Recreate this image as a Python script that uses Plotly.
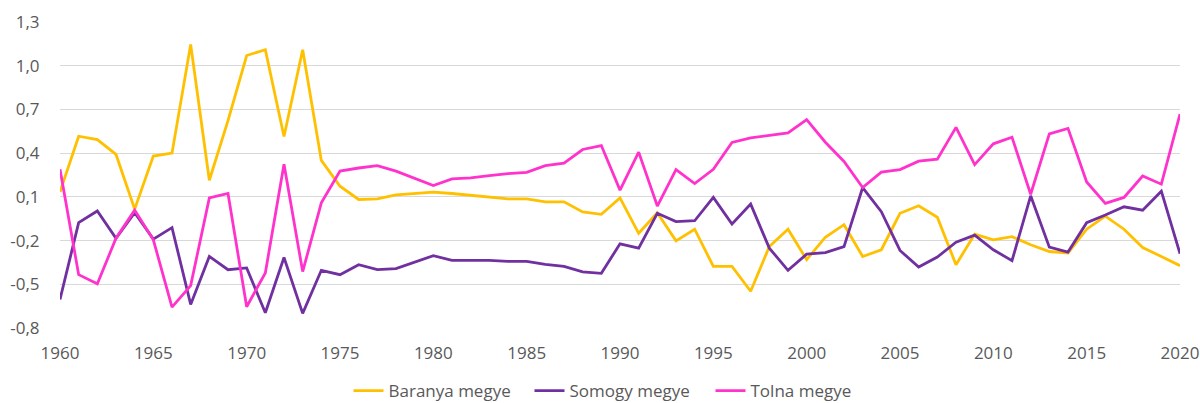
import plotly.graph_objects as go

years = list(range(1960, 2021))

baranya = [0.134, 0.516, 0.493, 0.391, 0.016, 0.38, 0.40, 1.146, 0.214, 0.623,
           1.07, 1.11, 0.514, 1.11, 0.35, 0.173, 0.082, 0.086, 0.114, 0.123,
           0.132, 0.123, 0.11, 0.10, 0.086, 0.086, 0.066, 0.066, -0.004, -0.02,
           0.093, -0.15, -0.009, -0.202, -0.122, -0.377, -0.377, -0.548, -0.241, -0.122,
           -0.331, -0.177, -0.091, -0.309, -0.263, -0.013, 0.039, -0.04, -0.366, -0.156,
           -0.195, -0.173, -0.229, -0.275, -0.286, -0.122, -0.032, -0.122, -0.248, -0.309,
           -0.372]

somogy = [-0.604, -0.077, 0.003, -0.184, -0.009, -0.19, -0.111, -0.638, -0.309, -0.40,
          -0.388, -0.695, -0.316, -0.70, -0.404, -0.434, -0.366, -0.40, -0.393, -0.347,
          -0.304, -0.336, -0.336, -0.336, -0.343, -0.343, -0.363, -0.377, -0.415, -0.425,
          -0.222, -0.252, -0.013, -0.07, -0.064, 0.096, -0.086, 0.05, -0.252, -0.404,
          -0.293, -0.282, -0.241, 0.164, -0.002, -0.268, -0.381, -0.313, -0.211, -0.163,
          -0.263, -0.338, 0.107, -0.245, -0.279, -0.077, -0.025, 0.032, 0.009, 0.139,
          -0.29]

tolna = [0.289, -0.434, -0.497, -0.184, 0.009, -0.195, -0.657, -0.509, 0.093, 0.123,
         -0.654, -0.422, 0.323, -0.413, 0.059, 0.277, 0.298, 0.314, 0.277, 0.225,
         0.178, 0.223, 0.23, 0.246, 0.26, 0.268, 0.314, 0.332, 0.425, 0.452,
         0.146, 0.407, 0.037, 0.287, 0.191, 0.289, 0.473, 0.505, 0.521, 0.539,
         0.63, 0.475, 0.343, 0.164, 0.27, 0.287, 0.345, 0.359, 0.577, 0.321,
         0.464, 0.509, 0.118, 0.532, 0.57, 0.202, 0.055, 0.096, 0.243, 0.187,
         0.668]

series_names = ["Baranya megye", "Somogy megye", "Tolna megye"]
series_colors = ["#FFC000", "#7030A0", "#FF33CC"]

y_ticks = [-0.8, -0.5, -0.2, 0.1, 0.4, 0.7, 1.0, 1.3]
y_labels = ["-0,8", "-0,5", "-0,2", "0,1", "0,4", "0,7", "1,0", "1,3"]
x_ticks = list(range(1960, 2021, 5))
x_labels = [str(v) for v in x_ticks]

fig = go.Figure()
for name, vals, col in zip(series_names, [baranya, somogy, tolna], series_colors):
    fig.add_trace(go.Scatter(x=years, y=vals, mode="lines", name=name,
                             line=dict(color=col, width=2.8)))

font_family = "Open Sans, Liberation Sans, Arial, sans-serif"
fs = 17
fig.update_layout(
    width=1200, height=403,
    margin=dict(l=60, r=20, t=22, b=75, autoexpand=False),
    paper_bgcolor="white", plot_bgcolor="white",
    font=dict(family=font_family, size=fs, color="#595959"),
    legend=dict(orientation="h", x=0.5, xanchor="center", y=-0.206, yanchor="middle",
                font=dict(size=fs, color="#595959"), itemwidth=30,
                entrywidth=136, entrywidthmode="pixels",
                traceorder="normal", bgcolor="rgba(0,0,0,0)"),
    showlegend=True,
)
fig.update_xaxes(range=[1960, 2020], tickvals=x_ticks, ticktext=x_labels,
                 showgrid=False, zeroline=False, showline=False,
                 ticks="outside", ticklen=10, tickcolor="rgba(0,0,0,0)",
                 automargin=False,
                 tickfont=dict(size=fs, color="#595959"))
fig.update_yaxes(range=[-0.8, 1.3], tickvals=y_ticks, ticktext=y_labels,
                 showgrid=True, gridcolor="#D9D9D9", gridwidth=1.3,
                 zeroline=False, showline=False,
                 ticks="outside", ticklen=16, tickcolor="rgba(0,0,0,0)",
                 automargin=False,
                 tickfont=dict(size=fs, color="#595959"))

fig.write_html("out.html", config={"displayModeBar": False},
               post_script="document.body.style.margin='0';document.body.style.overflow='hidden';")
